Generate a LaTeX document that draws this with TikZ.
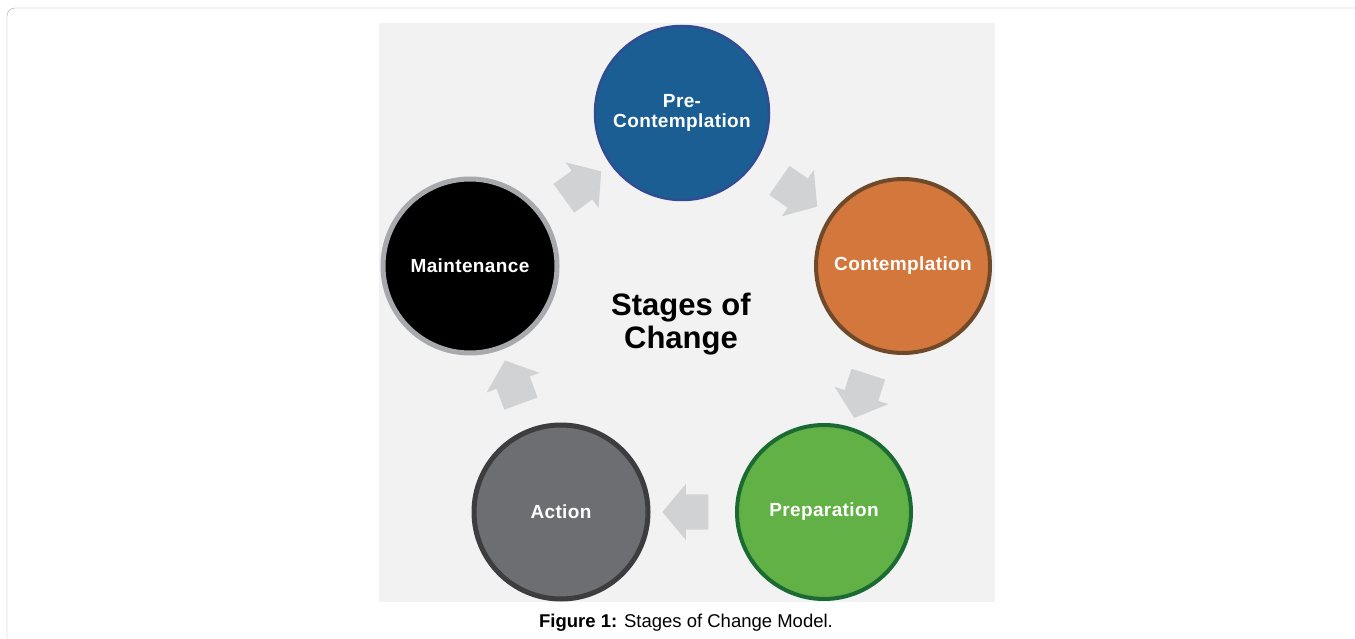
\documentclass[tikz,border=0pt]{standalone}
\usepackage{fontspec}
\setmainfont{Liberation Sans}
\newfontfamily\stagefont[LetterSpace=2]{Liberation Sans}
\usetikzlibrary{shapes.arrows}
\definecolor{panelgray}{HTML}{F2F2F2}
\definecolor{framegray}{HTML}{A8A8A8}
\definecolor{arrowgray}{HTML}{D1D2D4}
\definecolor{preblue}{HTML}{1B5E94}
\definecolor{preedge}{HTML}{304C92}
\definecolor{contorange}{HTML}{D4773C}
\definecolor{contedge}{HTML}{6E4A2A}
\definecolor{prepgreen}{HTML}{62B146}
\definecolor{prepedge}{HTML}{1A6A32}
\definecolor{actgray}{HTML}{6D6E71}
\definecolor{actedge}{HTML}{3D3D3F}
\definecolor{maintedge}{HTML}{A7A9AC}
\tikzset{
	stagenode/.style={circle,minimum size=174pt,inner sep=0pt,text=white,align=center,font=\stagefont\fontsize{19}{20}\selectfont\bfseries},
	stagearrow/.style={single arrow,draw=none,fill=arrowgray,minimum height=46pt,inner xsep=0pt,inner ysep=17.5pt,single arrow head extend=10.5pt,single arrow tip angle=100,sloped,allow upside down}
}
\begin{document}
\begin{tikzpicture}[x=1pt,y=-1pt]
	\useasboundingbox (0,0) rectangle (1355,639);
	% frame and panel
	\draw[framegray,rounded corners=8pt] (7,639) |- (1355,8);
	\fill[panelgray] (379,23) rectangle (995,602);
	% stages
	\node[stagenode,fill=preblue,draw=preedge,line width=2.5pt](pre) at (682,113){Pre-\\Contemplation};
	\node[stagenode,fill=contorange,draw=contedge,line width=4pt](contemp) at (903,266){Contemplation};
	\node[stagenode,fill=prepgreen,draw=prepedge,line width=4pt](prep) at (824,512){Preparation};
	\node[stagenode,fill=actgray,draw=actedge,line width=5pt](action) at (561,512){Action};
	\node[stagenode,fill=black,draw=maintedge,line width=5pt](maint) at (470,266){Maintenance};
	% arrows between stages
	\path (maint) -- node[stagearrow]{} (pre);
	\path (pre) -- node[stagearrow]{} (contemp);
	\path (contemp) -- node[stagearrow]{} (prep);
	\path (prep) -- node[stagearrow]{} (action);
	\path (action) -- node[stagearrow]{} (maint);
	% texts
	\node[align=center,font=\fontsize{31}{33}\selectfont\bfseries](title) at (681,324){Stages of\\Change};
	\node[font=\fontsize{18.5}{20}\selectfont](caption) at (686,623){\textbf{Figure 1:} Stages of Change Model.};
\end{tikzpicture}
\end{document}
